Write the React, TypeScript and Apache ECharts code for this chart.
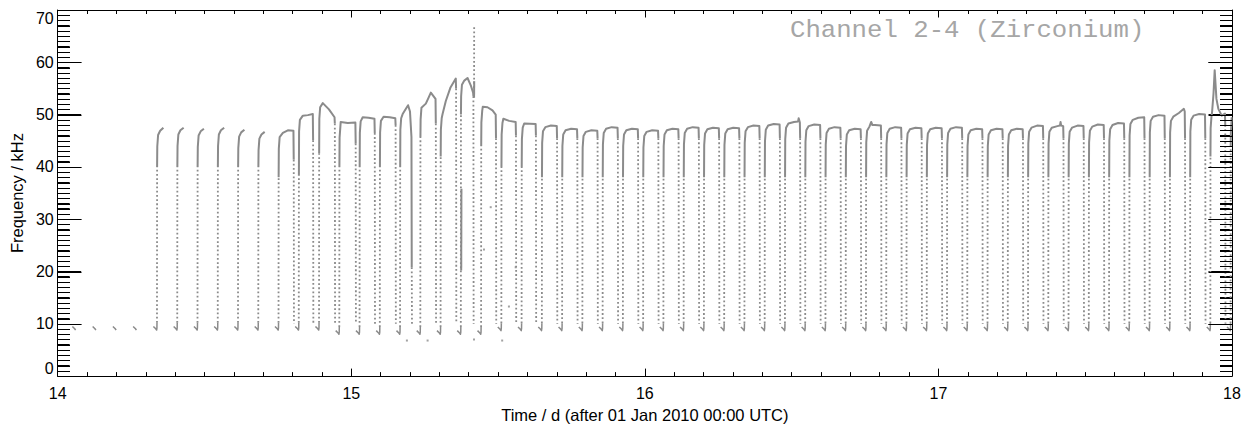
import React, { useEffect, useRef } from 'react';
import * as echarts from 'echarts';

// Time (d after 01 Jan 2010) of each upward step, cycles n = -4 .. 53
const riseTimes = [
  14.062, 14.131, 14.200, 14.269,
  14.338, 14.407, 14.476, 14.545, 14.614, 14.683, 14.752, 14.821, 14.890, 14.959,
  15.028, 15.097, 15.166, 15.235, 15.304, 15.373, 15.442, 15.511, 15.580, 15.649,
  15.718, 15.787, 15.856, 15.925, 15.994, 16.063, 16.132, 16.201, 16.270, 16.339,
  16.408, 16.477, 16.546, 16.615, 16.684, 16.753, 16.822, 16.891, 16.960, 17.029,
  17.098, 17.167, 17.236, 17.305, 17.374, 17.443, 17.512, 17.581, 17.650, 17.719,
  17.788, 17.857, 17.926, 17.995,
];

// Lowest frequency of each cycle's trough (kHz), n = -4 .. 53
const hookLows = [
  8.8, 8.8, 8.8, 8.8,
  8.8, 8.8, 8.8, 8.8, 8.8, 8.8, 8.8, 8.8, 8.8,
  8.0, 8.0, 8.0, 8.0, 8.0, 8.0, 8.0, 8.0,
  8.7, 8.7, 8.7, 8.7, 8.7, 8.7, 8.7, 8.7, 8.7, 8.7, 8.7, 8.7, 8.7, 8.7, 8.7, 8.7, 8.7,
  8.7, 8.7, 8.7, 8.7, 8.7, 8.7, 8.7, 8.7, 8.7, 8.7, 8.7, 8.7, 8.7, 8.7, 8.7, 8.7, 8.7,
  8.7, 8.7, 8.7,
];

// Level where the fast (sparse) rise turns into the dense upper part, n = 0 .. 53
const cornerLevels = [
  40, 40, 40, 40, 40, 40,
  38, 38.3, 42.6, 40, 40, 40, 40, 45.7, 42, 50, 44, 40, 40,
  38, 38, 38, 38, 38, 38, 38, 38, 38, 38, 38, 38, 38, 38, 38, 38, 38,
  38, 38, 38, 38, 38, 38, 38, 38, 38, 38, 38, 38, 38, 38, 38, 38,
  42, 44,
];

// Dense plateau samples [time, kHz] of each cycle, n = 0 .. 53
const plateaus = [
  [[14.349, 46.9], [14.360, 47.5]],
  [[14.418, 47.0], [14.429, 47.5]],
  [[14.487, 46.8], [14.498, 47.3]],
  [[14.556, 47.0], [14.567, 47.5]],
  [[14.625, 46.6], [14.636, 47.1]],
  [[14.694, 46.2], [14.705, 46.7]],
  [[14.767, 46.5], [14.784, 47.0], [14.803, 46.9]],
  [[14.835, 49.8], [14.852, 49.9], [14.869, 50.1]],
  [[14.903, 52.2], [14.924, 51.0], [14.943, 49.5]],
  [[14.964, 48.6], [14.988, 48.4], [15.014, 48.5]],
  [[15.039, 49.5], [15.059, 49.4], [15.079, 49.2]],
  [[15.110, 49.6], [15.131, 49.5], [15.150, 49.3]],
  [[15.175, 50.1], [15.1935, 51.8], [15.200, 50.6], [15.205, 45.7]],
  [[15.254, 52.1], [15.263, 53.2], [15.271, 54.2], [15.287, 53.0]],
  [[15.311, 50.1], [15.322, 52.6], [15.338, 55.2], [15.356, 56.9]],
  [[15.385, 56.5], [15.396, 57.0], [15.407, 55.6], [15.415, 54.2]],
  [[15.448, 51.5], [15.464, 51.4], [15.481, 50.8], [15.492, 50.0]],
  [[15.518, 49.2], [15.538, 48.8], [15.560, 48.6]],
  [[15.589, 48.3], [15.628, 48.2]],
  [[15.661, 47.6], [15.680, 47.9], [15.700, 47.8]],
  [[15.730, 47.0], [15.749, 47.3], [15.769, 47.2]],
  [[15.799, 46.7], [15.818, 47.0], [15.838, 46.9]],
  [[15.868, 47.3], [15.887, 47.6], [15.907, 47.5]],
  [[15.937, 47.0], [15.956, 47.3], [15.976, 47.2]],
  [[16.006, 46.7], [16.025, 47.0], [16.045, 46.9]],
  [[16.075, 47.0], [16.094, 47.3], [16.114, 47.2]],
  [[16.144, 47.3], [16.163, 47.6], [16.183, 47.5]],
  [[16.213, 47.2], [16.232, 47.5], [16.252, 47.4]],
  [[16.282, 47.2], [16.301, 47.5], [16.321, 47.4]],
  [[16.351, 47.6], [16.370, 47.9], [16.390, 47.8]],
  [[16.420, 47.9], [16.439, 48.2], [16.459, 48.1]],
  [[16.489, 48.3], [16.508, 48.6], [16.522, 48.7], [16.524, 49.3], [16.528, 48.5]],
  [[16.558, 47.8], [16.577, 48.1], [16.597, 48.0]],
  [[16.627, 47.3], [16.646, 47.6], [16.666, 47.5]],
  [[16.696, 47.0], [16.715, 47.3], [16.735, 47.2]],
  [[16.765, 47.7], [16.771, 48.6], [16.775, 48.0], [16.784, 48.0], [16.804, 47.9]],
  [[16.834, 47.3], [16.853, 47.6], [16.873, 47.5]],
  [[16.903, 47.2], [16.922, 47.5], [16.942, 47.4]],
  [[16.972, 47.2], [16.991, 47.5], [17.011, 47.4]],
  [[17.041, 47.3], [17.060, 47.6], [17.080, 47.5]],
  [[17.110, 47.0], [17.129, 47.3], [17.149, 47.2]],
  [[17.179, 47.0], [17.198, 47.3], [17.218, 47.2]],
  [[17.248, 47.0], [17.267, 47.3], [17.287, 47.2]],
  [[17.317, 47.5], [17.336, 47.9], [17.356, 47.8]],
  [[17.386, 47.5], [17.405, 47.8], [17.414, 47.9], [17.416, 48.6], [17.418, 47.9], [17.425, 47.8]],
  [[17.455, 47.5], [17.474, 47.9], [17.494, 47.8]],
  [[17.524, 47.7], [17.543, 48.1], [17.563, 48.0]],
  [[17.593, 48.0], [17.612, 48.4], [17.632, 48.3]],
  [[17.662, 49.0], [17.681, 49.4], [17.701, 49.5]],
  [[17.731, 49.6], [17.750, 49.9], [17.770, 49.8]],
  [[17.800, 49.6], [17.819, 50.3], [17.836, 51.1], [17.839, 50.6]],
  [[17.869, 49.8], [17.888, 50.1], [17.908, 50.0]],
  [[17.932, 50.4], [17.937, 54.0], [17.941, 58.5], [17.947, 53.0], [17.9535, 51.1], [17.965, 49.8], [17.976, 50.2]],
  [[17.999, 49.5]],
];

// Level where the dense part of each drop ends (null: no drop recorded), n = 0 .. 53
const dropLevels = [
  null, null, null, null, null, null,
  41.4, 45.1, 48.3, 44.5, 46.5, 48.0, 20.8, 48.3, 55.0, 53.5, 45.5, 46, 46,
  45.5, 45.5, 45.5, 45.5, 45.5, 45.5, 45.5, 45.5, 45.5, 45.5, 45.5, 45.5, 45.5, 45.5, 45.5, 45.5, 45.5,
  45.5, 45.5, 45.5, 45.5, 45.5, 45.5, 45.5, 45.5, 45.5, 45.5, 45.5, 45.5, 45.5, 45.5, 45.5, 45.5,
  48, null,
];

// Extra dense runs and sparse spike in the disturbed interval
const extraDense = [
  [[15.3745, 20.2], [15.3752, 35.8]],
  [[15.4183, 53.2], [15.4188, 56.4]],
];
const extraSparse = [
  [[15.4183, 53.5], [15.4186, 66.7]],
];

// Isolated samples
const strayPoints = [
  [15.1895, 6.8], [15.260, 6.8], [15.418, 7.0], [15.514, 6.8],
  [15.475, 32.3], [15.537, 13.3], [15.560, 20.8], [15.452, 24.2],
];

const xMin = 14, xMax = 18, xStep = 1;
const yMin = 0, yMax = 70, yStep = 10;
// y-axis tick comb: every 1 kHz, longer every 10 kHz
const yCombValues = Array.from({ length: 71 }, (_, i) => i);

const TITLE = 'Channel 2-4 (Zirconium)';
const X_NAME = 'Time / d (after 01 Jan 2010 00:00 UTC)';
const Y_NAME = 'Frequency / kHz';

function buildPaths() {
  const hooks: number[][][] = [];
  const dense: number[][][] = [];
  const sparse: number[][][] = [];
  riseTimes.forEach((rt, i) => {
    const n = i - 4;
    const low = hookLows[i];
    const hook = [[rt - 0.012, low + 0.7], [rt - 0.004, low + 0.25], [rt - 0.001, low]];
    if (n < 0) {
      hooks.push(hook);
      return;
    }
    hook.push([rt, low + 0.4], [rt + 0.0002, low + 1.4]);
    hooks.push(hook);
    const plat = plateaus[n];
    const corner = cornerLevels[n];
    const cornerPt = [rt + 0.0006, corner];
    sparse.push([[rt + 0.0002, low + 1.4], cornerPt]);
    const first = plat[0];
    const bend = [[rt + 0.0012, first[1] - 3], [rt + 0.004, first[1] - 0.8]].filter(
      (p) => p[0] < first[0] - 0.0004 && p[1] > corner
    );
    const top = [cornerPt, ...bend, ...plat];
    const drop = dropLevels[n];
    if (drop != null) {
      const last = plat[plat.length - 1];
      const dEnd = [last[0] + 0.001, drop];
      top.push(dEnd);
      sparse.push([dEnd, [last[0] + 0.0018, 10]]);
    }
    dense.push(top);
  });
  extraDense.forEach((p) => dense.push(p));
  extraSparse.forEach((p) => sparse.push(p));
  return { hooks, dense, sparse };
}

const FONT = 'Liberation Sans, Arial, Helvetica, sans-serif';
const INK = '#8b8b8b';

function makeX(position: string, withLabels: boolean) {
  const ax: any = {
    type: 'value',
    position,
    min: xMin,
    max: xMax,
    interval: xStep,
    axisLine: { show: true, onZero: false, lineStyle: { color: '#000', width: 1 } },
    axisTick: { show: true, inside: true, length: 7.5, lineStyle: { color: '#000', width: 1 } },
    minorTick: { show: true, splitNumber: 10, length: 4, lineStyle: { color: '#000', width: 1 } },
    splitLine: { show: false },
    axisLabel: withLabels
      ? { show: true, color: '#000', fontSize: 16, fontFamily: FONT, margin: 9 }
      : { show: false },
  };
  if (withLabels) {
    ax.name = X_NAME;
    ax.nameLocation = 'middle';
    ax.nameGap = 25;
    ax.nameTextStyle = { color: '#000', fontSize: 16.5, fontFamily: FONT };
  }
  return ax;
}

function makeY(position: string, withLabels: boolean) {
  const ax: any = {
    type: 'value',
    position,
    min: yMin,
    max: yMax,
    interval: yStep,
    axisLine: { show: true, onZero: false, lineStyle: { color: '#000', width: 1 } },
    axisTick: { show: true, inside: true, length: 23.5, lineStyle: { color: '#000', width: 1 } },
    minorTick: { show: true, splitNumber: 10, length: 12, lineStyle: { color: '#000', width: 1 } },
    splitLine: { show: false },
    axisLabel: withLabels
      ? {
          show: true,
          color: '#000',
          fontSize: 16,
          fontFamily: FONT,
          margin: 4,
          verticalAlignMinLabel: 'bottom',
          verticalAlignMaxLabel: 'top',
        }
      : { show: false },
  };
  if (withLabels) {
    ax.name = Y_NAME;
    ax.nameLocation = 'middle';
    ax.nameGap = 30;
    ax.nameTextStyle = { color: '#000', fontSize: 16.5, fontFamily: FONT };
  }
  return ax;
}

const titleGraphic = {
  type: 'text',
  x: 790,
  y: 30,
  scaleX: 1.07,
  silent: true,
  style: {
    text: TITLE,
    fontSize: 24,
    fontFamily: 'Liberation Mono, DejaVu Sans Mono, monospace',
    fill: '#a6a6a6',
    align: 'left',
    verticalAlign: 'middle',
  },
};

export default function App() {
  const ref = useRef<HTMLDivElement>(null);
  useEffect(() => {
    if (!ref.current) return;
    const chart = echarts.init(ref.current, undefined, { renderer: 'svg' });
    const { hooks, dense, sparse } = buildPaths();
    chart.setOption({
      animation: false,
      backgroundColor: '#fff',
      grid: { left: 54, right: 20, top: 10, bottom: 44 },
      xAxis: [makeX('bottom', true), makeX('top', false)],
      yAxis: [makeY('left', true), makeY('right', false)],
      graphic: [titleGraphic],
      series: [
        {
          type: 'lines',
          coordinateSystem: 'cartesian2d',
          polyline: true,
          silent: true,
          data: sparse.map((c) => ({ coords: c })),
          lineStyle: { color: INK, width: 1.8, type: [1.8, 2.4], opacity: 1, curveness: 0 },
          z: 2,
        },
        {
          type: 'lines',
          coordinateSystem: 'cartesian2d',
          polyline: true,
          silent: true,
          data: hooks.map((c) => ({ coords: c })),
          lineStyle: { color: INK, width: 1.5, opacity: 1, curveness: 0, join: 'round' },
          z: 3,
        },
        {
          type: 'lines',
          coordinateSystem: 'cartesian2d',
          polyline: true,
          silent: true,
          data: dense.map((c) => ({ coords: c })),
          lineStyle: { color: INK, width: 2, opacity: 1, curveness: 0, join: 'round' },
          z: 3,
        },
        {
          type: 'scatter',
          silent: true,
          symbol: 'rect',
          symbolSize: 2,
          data: strayPoints,
          itemStyle: { color: INK },
          z: 3,
        },
      ],
    });

    // Tick comb on the left and right frame edges, placed through the chart's own scale
    const combs: any[] = [];
    yCombValues.forEach((v) => {
      const pL = chart.convertToPixel({ gridIndex: 0 }, [xMin, v]) as number[];
      const pR = chart.convertToPixel({ gridIndex: 0 }, [xMax, v]) as number[];
      if (!pL || !pR) return;
      const len = v % yStep === 0 ? 23.5 : 12;
      const y = Math.round(pL[1]) + 0.5;
      const xl = Math.round(pL[0]);
      const xr = Math.round(pR[0]);
      combs.push(
        { type: 'line', silent: true, z: 100, shape: { x1: xl, y1: y, x2: xl + len, y2: y }, style: { stroke: '#000', lineWidth: 1 } },
        { type: 'line', silent: true, z: 100, shape: { x1: xr, y1: y, x2: xr - len, y2: y }, style: { stroke: '#000', lineWidth: 1 } }
      );
    });
    chart.setOption({ graphic: [titleGraphic, ...combs] }, { replaceMerge: ['graphic'] });

    return () => chart.dispose();
  }, []);
  return (
    <div
      ref={ref}
      style={{ position: 'absolute', left: 0, top: 0, width: 1252, height: 428, background: '#fff' }}
    />
  );
}
